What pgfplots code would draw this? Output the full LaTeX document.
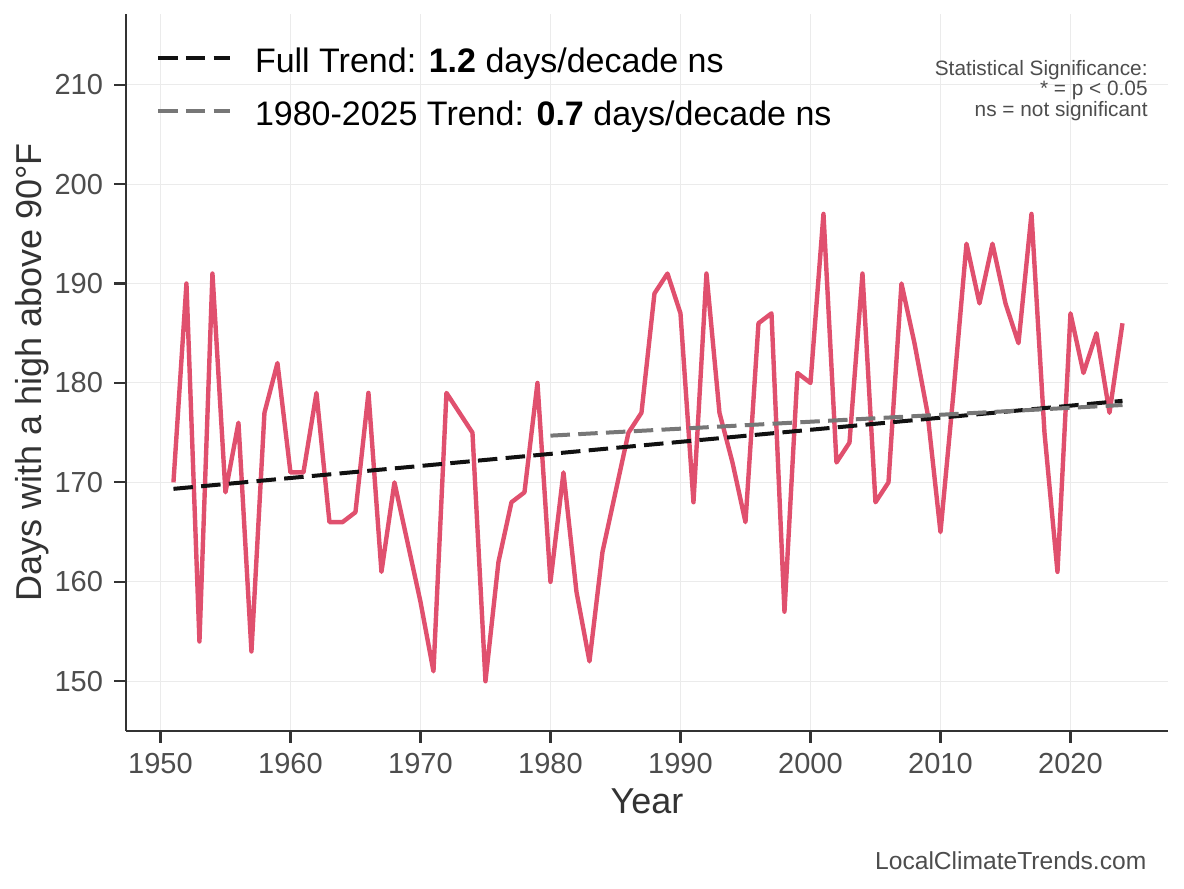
\documentclass[border=0pt]{standalone}
\usepackage{fontspec}
\setmainfont{Liberation Sans}
\usepackage{pgfplots}
\usepackage{pgfplotstable}
\pgfplotsset{compat=1.18}
\definecolor{redline}{RGB}{224,80,110}
\definecolor{axisdark}{RGB}{51,51,51}
\definecolor{tickgray}{RGB}{77,77,77}
\definecolor{gridgray}{RGB}{235,235,235}
\definecolor{trendgray}{RGB}{119,119,119}
\definecolor{trendblack}{RGB}{17,17,17}
\pgfplotstableread{
year days
1951 170
1952 190
1953 154
1954 191
1955 169
1956 176
1957 153
1958 177
1959 182
1960 171
1961 171
1962 179
1963 166
1964 166
1965 167
1966 179
1967 161
1968 170
1969 164
1970 158
1971 151
1972 179
1973 177
1974 175
1975 150
1976 162
1977 168
1978 169
1979 180
1980 160
1981 171
1982 159
1983 152
1984 163
1985 169
1986 175
1987 177
1988 189
1989 191
1990 187
1991 168
1992 191
1993 177
1994 172
1995 166
1996 186
1997 187
1998 157
1999 181
2000 180
2001 197
2002 172
2003 174
2004 191
2005 168
2006 170
2007 190
2008 184
2009 177
2010 165
2011 179
2012 194
2013 188
2014 194
2015 188
2016 184
2017 197
2018 175
2019 161
2020 187
2021 181
2022 185
2023 177
2024 186
}\datatable
\begin{document}
\begin{tikzpicture}
\path[use as bounding box] (0,0) rectangle (592pt,444.5pt);
\begin{axis}[
  at={(63pt,79pt)}, anchor=south west,
  scale only axis, width=521pt, height=358.5pt,
  xmin=1947.35, xmax=2027.5, ymin=145, ymax=217.1,
  xtick={1950,1960,...,2020}, ytick={150,160,...,210},
  axis lines=left, axis line style={-, line width=1.35pt, color=axisdark},
  tick align=outside, major tick length=6pt,
  tick style={line width=1.1pt, color=axisdark},
  minor tick num=0,
  grid=major, major grid style={line width=0.5pt, color=gridgray},
  clip=false,
  /pgf/number format/assume math mode=true,
  /pgf/number format/1000 sep={},
  ticklabel style={font=\fontsize{14.5}{14.5}\selectfont, color=tickgray, inner sep=0pt},
  xticklabel style={anchor=base, yshift=-15.15pt},
  yticklabel style={anchor=east, xshift=-5.35pt},
  xlabel={Year}, ylabel={Days with a high above 90°F},
  label style={font=\fontsize{18}{18}\selectfont, color=axisdark},
  xlabel style={at={(axis description cs:0.5,-0.1148)}, anchor=base},
  ylabel style={at={(axis description cs:-0.0809,0.5)}, anchor=base},
  legend cell align=left,
  legend style={at={(axis description cs:0.02879,0.9636)}, anchor=north west, draw=none, fill=none, inner sep=0pt, outer sep=0pt, nodes={inner sep=0pt}, column sep=11.5pt, row sep=8.8pt, font=\fontsize{17}{17}\selectfont},
  legend image code/.code={\draw[#1] (0pt,0pt) -- (36pt,0pt);},
]
\addplot[redline, line width=2.2pt, line join=round, forget plot] table[x=year, y=days] {\datatable};
\addplot[trendblack, line width=2pt, dash pattern=on 9.75pt off 4.15pt] coordinates {(1951,169.35) (2024,178.2)};
\addlegendentry{\rule[-4pt]{0pt}{20.2pt}Full Trend: \textbf{1.2} days/decade ns}
\addplot[trendgray, line width=2pt, dash pattern=on 9.75pt off 4.15pt] coordinates {(1980,174.7) (2024,177.78)};
\addlegendentry{\rule[-4pt]{0pt}{20.2pt}1980-2025 Trend: \textbf{0.7} days/decade ns}
\node[anchor=north east, align=right, inner sep=0pt, font=\fontsize{10.4}{10.25}\selectfont, text=tickgray] at (axis description cs:0.9808,0.9358) {Statistical Significance:\\* = p < 0.05\\ns = not significant};
\node[anchor=base east, inner sep=0pt, font=\fontsize{12.3}{12.3}\selectfont, text=tickgray] at (axis description cs:0.9796,-0.1929) {LocalClimateTrends.com};
\end{axis}
\end{tikzpicture}
\end{document}
